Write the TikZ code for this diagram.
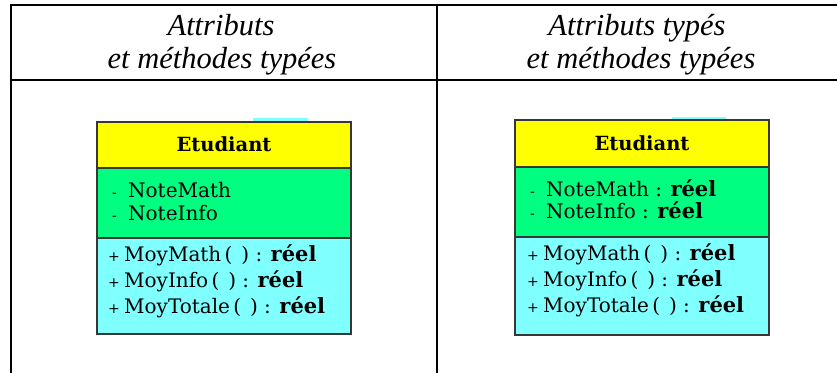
\documentclass[tikz,border=0pt]{standalone}
\usepackage{fontspec}
\newfontfamily\headfont{Liberation Serif}
\newfontfamily\umlfont{DejaVu Serif}
\usetikzlibrary{calc}
\definecolor{clyellow}{RGB}{255,255,0}
\definecolor{clgreen}{RGB}{0,255,128}
\definecolor{clcyan}{RGB}{128,255,255}
\definecolor{clborder}{RGB}{55,55,55}
\newcommand{\reel}{{\bfseries\fontsize{21}{21}\selectfont réel}}
\newcommand{\vis}[1]{\makebox[16pt][l]{\fontsize{14}{14}\selectfont #1}}
\tikzset{
  head/.style={font=\headfont\itshape\fontsize{30.5}{30.5}\selectfont, inner sep=0pt, anchor=base},
  cname/.style={font=\umlfont\bfseries\fontsize{19.5}{19.5}\selectfont, inner sep=0pt, anchor=base},
  memb/.style={font=\umlfont\fontsize{20}{20}\selectfont, inner sep=0pt, anchor=base west},
  part/.style={draw=clborder, line width=1.6pt},
  rule/.style={line width=2pt}
}

\begin{document}
\begin{tikzpicture}[x=1pt,y=-1pt]
\useasboundingbox (0,0) rectangle (837,373);
\coordinate (tl) at (11,5);
\coordinate (tr) at (837,5);
\coordinate (hl) at (11,80);
\coordinate (hr) at (837,80);
\coordinate (bl) at (11,373);
\coordinate (tm) at (437,5);
\coordinate (bm) at (437,373);
\draw[rule] (tr) -- (tl) -- (bl);
\draw[rule] (hl) -- (hr);
\draw[rule] (tm) -- (bm);

\node[head] (h11) at (221,35) {Attributs};
\node[head] (h12) at (222,68) {et méthodes typées};
\node[head] (h21) at (637,35) {Attributs typés};
\node[head] (h22) at (641,68) {et méthodes typées};

\fill[clcyan] (253,118) rectangle (308,121);
\filldraw[part, fill=clyellow] (97,122) rectangle (351,168);
\filldraw[part, fill=clgreen] (97,168) rectangle (351,238);
\filldraw[part, fill=clcyan] (97,238) rectangle (351,334);
\node[cname] (c1) at (224,151) {Etudiant};
\node[memb] (a11) at (112,197) {\vis{-}NoteMath};
\node[memb] (a12) at (112,220) {\vis{-}NoteInfo};
\node[memb] (m11) at (108,261) {\vis{+}MoyMath\,(\;\,) : \reel};
\node[memb] (m12) at (108,287) {\vis{+}MoyInfo\,(\;\,) : \reel};
\node[memb] (m13) at (108,313) {\vis{+}MoyTotale\,(\;\,) : \reel};

\fill[clcyan] (672,117) rectangle (726,120);
\filldraw[part, fill=clyellow] (515,120) rectangle (769,167);
\filldraw[part, fill=clgreen] (515,167) rectangle (769,237);
\filldraw[part, fill=clcyan] (515,237) rectangle (769,335);
\node[cname] (c2) at (642,150) {Etudiant};
\node[memb] (a21) at (530,196) {\vis{-}NoteMath : \reel};
\node[memb] (a22) at (530,218) {\vis{-}NoteInfo : \reel};
\node[memb] (m21) at (527,260) {\vis{+}MoyMath\,(\;\,) : \reel};
\node[memb] (m22) at (527,286) {\vis{+}MoyInfo\,(\;\,) : \reel};
\node[memb] (m23) at (527,312) {\vis{+}MoyTotale\,(\;\,) : \reel};
\end{tikzpicture}
\end{document}
